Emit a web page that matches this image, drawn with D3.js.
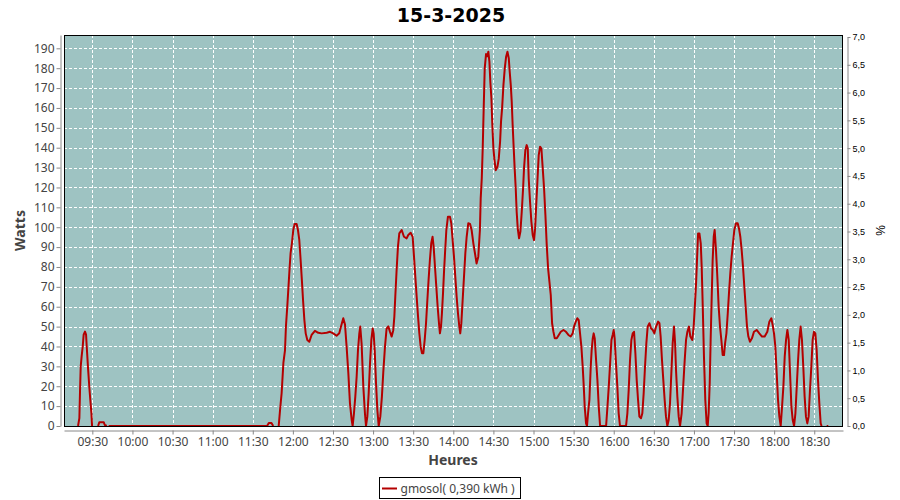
<!DOCTYPE html>
<html><head><meta charset="utf-8">
<script src="https://cdn.jsdelivr.net/npm/d3@7"></script>
<style>body{margin:0;background:#fff;} svg{display:block}</style>
</head><body>
<svg id="chart" width="900" height="500"></svg>
<script>
const chartTitle = "15-3-2025";
const seriesName = "gmosol( 0,390 kWh )";
const yTitle = "Watts";
const xTitle = "Heures";
const y2Title = "%";
// time in minutes after 09:00 (null watts = no data)
const minutes = [
 19.3,20.3,20.8,21.3,22.0,22.8,23.5,24.5,25.3,25.8,26.8,27.8,28.5,29.3,29.8,30.5,
 34.3,35.2,38.5,39.3,40.8,41.6,42.2,160.7,162.0,164.0,165.3,166.5,169.4,
 170.4,171.6,172.9,174.1,174.8,175.8,176.8,177.6,178.3,179.3,180.3,181.3,182.8,183.8,184.8,185.8,186.8,187.6,188.6,189.6,190.8,192.3,194.0,196.5,199.0,201.5,205.3,207.8,210.2,212.7,214.7,216.0,217.7,219.0,220.2,221.5,222.7,224.0,224.7,
 225.7,226.7,227.7,228.7,229.7,230.4,231.4,232.7,233.9,234.7,235.7,236.7,237.7,238.7,239.7,240.4,241.2,242.2,243.2,244.2,
 245.4,246.6,247.6,248.9,250.1,251.4,252.6,253.9,255.1,255.9,256.6,257.6,258.6,259.6,261.4,263.1,265.1,266.3,268.1,269.6,270.6,271.6,272.6,273.6,274.6,275.6,276.6,277.6,278.6,279.6,280.6,281.5,282.5,283.5,284.5,285.3,286.3,287.3,288.3,289.3,290.0,290.8,291.5,292.3,293.0,293.8,294.8,296.0,297.5,298.5,299.5,300.5,301.5,302.5,303.5,304.5,305.2,306.0,307.0,308.0,309.0,310.0,311.2,312.5,313.7,315.0,316.2,317.4,318.7,319.9,
 320.5,321.3,322.0,322.8,323.5,324.5,325.5,326.2,327.0,327.7,328.5,329.2,330.0,330.7,331.7,333.0,334.0,335.0,335.7,336.5,337.5,338.5,339.5,340.5,341.5,342.2,343.0,343.7,344.4,345.2,345.9,346.7,347.4,348.2,349.2,350.2,351.2,352.2,352.9,353.9,354.9,355.7,356.4,357.4,358.4,359.4,360.4,361.2,361.9,362.9,363.9,364.9,365.9,366.9,367.9,368.9,369.9,370.9,371.9,372.9,
 373.9,374.9,375.9,377.4,378.9,380.4,382.4,384.3,386.1,387.8,389.3,390.3,391.6,392.8,393.8,394.8,395.8,396.8,397.6,398.3,399.3,400.0,400.8,401.8,402.8,403.5,404.3,405.0,405.8,406.8,407.8,408.8,409.8,414.3,415.3,416.3,417.3,418.3,419.2,420.0,420.7,421.7,422.7,423.7,424.7,429.2,430.2,431.2,432.2,433.2,434.2,435.2,436.2,437.2,438.2,439.2,440.4,441.4,442.4,443.4,444.4,445.4,446.7,447.9,449.2,450.4,451.7,453.2,454.2,455.1,456.1,457.1,458.1,459.1,460.1,461.1,462.1,463.1,464.1,465.1,465.9,466.6,467.6,468.6,469.6,
 470.8,472.1,473.1,474.1,475.1,476.3,477.3,478.8,479.8,480.8,481.6,482.3,483.1,484.1,485.1,485.8,486.6,487.5,488.5,489.5,490.3,491.0,491.8,492.5,493.3,494.0,494.8,495.5,496.5,497.5,498.5,499.5,500.5,501.5,502.5,503.3,504.3,505.3,506.2,507.2,508.2,509.2,510.2,511.5,512.7,513.7,514.7,515.7,516.7,517.7,518.7,519.7,520.7,521.9,523.4,524.9,526.9,528.9,530.9,532.9,534.9,536.4,537.9,538.9,539.9,540.9,541.9,542.9,543.9,544.9,545.9,546.9,547.9,548.9,549.9,550.9,551.9,552.9,553.9,554.9,555.9,556.9,557.9,558.8,559.8,560.8,561.8,562.8,563.8,564.8,565.8,566.8,567.8,568.8,569.8,570.8,571.8,572.8,573.8,574.8,575.5,576.0,579.3,580.5,581.0
];
const watts = [
 0,4,18,30,35,40,46,47.5,46,40,29,19,13,6.5,0,null,
 0,1.9,1.9,0.5,0,null,0,0,1.5,1.5,0,null,0,
 8,16.6,31.7,38,50,60,71,80,87,92,98.6,101.6,101.6,98.6,93.6,83.5,72.6,63.4,53.3,46.6,43.3,42.4,45.8,47.9,46.9,46.6,46.9,47.4,46.6,45.4,46.6,50,54.2,51,39.9,26.5,11.4,3,0,
 6.4,14.8,24.8,38.2,46.6,50,41.6,19.8,6.4,0,4.7,16.4,31.5,43.3,49.1,46.6,38.2,21.5,8,0,
 4.7,14.8,26.7,39.9,49,50.1,47.5,45,48.2,55,65,78.5,90.2,96.9,98.6,95.2,94.4,96.1,97.2,95.2,85.2,75.1,65,55.3,46.6,39.9,36.6,36.6,43.3,51.6,63.4,73.4,83.5,91.9,95.2,90.2,80.1,70,60,51.6,46.6,50,56.7,66.7,76.8,86.9,98.6,105.3,105.3,102,93.6,85.2,75.1,65,56.7,50,46.6,51.6,63.4,75.1,86.9,95.2,102,101.7,98.6,91.9,86.9,81.8,85.2,98.6,
 114.5,124.6,139.6,161.5,179.9,187.1,186,188.3,183.3,173.2,164.9,151.4,139.6,134.5,128.7,130.4,134.5,143,153.1,159.8,171.5,179.9,185.8,188.3,185,178.2,171.5,163.2,151.4,139.6,129.6,119.5,107.8,99.4,94.4,97.8,107.8,119.5,129.6,138.8,141.3,139.6,124.6,112.9,102.8,96.1,93.5,99.4,109.5,122.9,136.3,140.5,139.6,129.6,119.5,106.1,91,79.3,72.6,65.9,
 51.7,47.4,44.1,44.1,45.8,47.4,48.3,47.4,45.8,45,46.6,50,52.5,54.2,53.3,46.6,39.9,29.8,19.8,9.7,1.3,0,6.4,13.1,29.8,38.2,44.1,46.6,44.1,33.2,23.1,9.7,0,0,9.7,19.8,31.5,43.3,45.8,48.3,44.1,31.5,19.8,6.4,0,0,6.4,18.1,33.2,43.3,46.6,47.4,36.6,23.1,13.1,4.7,3.9,6.4,16.4,29.8,41.6,50,51.7,49.2,48.3,46.6,50,52.5,51.7,45,33.2,23.1,13.1,4.7,0,3,11.4,26.5,41.6,50,41.6,28.2,14.8,4.7,0,
 6.4,21.5,33.2,43.3,47.4,50,45,43.3,50,61.7,71.8,83.5,96.9,96.9,91.9,80.1,60,34.9,13.1,1.3,0,6.4,21.5,43.3,65,83.5,95.2,98.6,88.5,75.1,60,50,43.3,35.7,35.7,41.6,46.6,56.7,66.7,76.8,85.2,91.9,98.6,102,102,99.4,95.2,88.5,80.1,70,60,50,45,42.4,44.1,47.4,48.3,46.6,45,45,47.4,52.5,54.2,50.8,46.6,39.9,26.5,13.1,4.7,0,9.7,19.8,34.9,43.3,48.3,43.3,26.5,9.7,3,0,6.4,19.8,33.2,43.3,50,43.3,29.8,14.8,4.7,1.3,4.7,18.1,29.8,43.3,47.4,46.6,38.2,23.1,11.4,1.3,0,null,0,0,null
];
const xTickLabels = ["09:30","10:00","10:30","11:00","11:30","12:00","12:30","13:00","13:30","14:00","14:30","15:00","15:30","16:00","16:30","17:00","17:30","18:00","18:30"];
const leftTicks = [0,10,20,30,40,50,60,70,80,90,100,110,120,130,140,150,160,170,180,190];
const rightTicks = [0,0.5,1,1.5,2,2.5,3,3.5,4,4.5,5,5.5,6,6.5,7];

const day = new Date(2025, 2, 15, 9, 0, 0);
const toDate = m => new Date(day.getTime() + m * 60000);
const parseHM = s => { const [h, mm] = s.split(":").map(Number); return new Date(2025, 2, 15, h, mm, 0); };

const data = minutes.map((m, i) => ({ t: toDate(m), w: watts[i] }));

const L = 64, R = 843, T = 35, B = 426;
const svg = d3.select("#chart");
const x = d3.scaleTime().domain([toDate(8.8), toDate(591.5)]).range([L, R]);
const y = d3.scaleLinear().domain([0, 196.7]).range([B, T]);
const yR = d3.scaleLinear().domain([0, 7]).range([B, 37]);
const FONT = "'Noto Sans', 'DejaVu Sans', sans-serif";

// title
svg.append("text").attr("x", 451).attr("y", 22).attr("text-anchor", "middle")
  .style("font-family", "'DejaVu Sans', sans-serif").style("font-weight", "bold").style("font-size", "19px")
  .attr("fill", "#000").text(chartTitle);

// plot background
svg.append("rect").attr("x", L).attr("y", T).attr("width", R - L).attr("height", B - T).attr("fill", "#9ec3c2");

// gridlines
const xTicks = xTickLabels.map(parseHM);
svg.append("g").selectAll("line").data(leftTicks.filter(v => v > 0)).join("line")
  .attr("x1", L).attr("x2", R).attr("y1", d => Math.round(y(d)) + 0.5).attr("y2", d => Math.round(y(d)) + 0.5)
  .attr("stroke", "#fff").attr("stroke-width", 1).attr("stroke-dasharray", "3,2");
svg.append("g").selectAll("line").data(xTicks).join("line")
  .attr("y1", T).attr("y2", B).attr("x1", d => Math.round(x(d)) + 0.5).attr("x2", d => Math.round(x(d)) + 0.5)
  .attr("stroke", "#fff").attr("stroke-width", 1).attr("stroke-dasharray", "3,2");

// series line
svg.append("clipPath").attr("id", "clip").append("rect").attr("x", L).attr("y", T).attr("width", R - L).attr("height", B - T);
const line = d3.line().defined(d => d.w !== null).x(d => x(d.t)).y(d => y(d.w));
svg.append("path").datum(data).attr("clip-path", "url(#clip)")
  .attr("d", line).attr("fill", "none").attr("stroke", "#b40000").attr("stroke-width", 2).attr("stroke-linejoin", "round");

// border
svg.append("rect").attr("x", L + 0.5).attr("y", T + 0.5).attr("width", R - L - 1).attr("height", B - T)
  .attr("fill", "none").attr("stroke", "#000").attr("stroke-width", 1);

// axes
function styleAxis(g, fontSize, color, family) {
  g.select(".domain").attr("stroke", "#888");
  g.selectAll(".tick line").attr("stroke", "#888");
  g.selectAll(".tick text").style("font-family", family).style("font-size", fontSize).attr("fill", color);
}
const gl = svg.append("g").attr("transform", "translate(60.5,0)")
  .call(d3.axisLeft(y).tickValues(leftTicks).tickSize(4).tickSizeOuter(0).tickPadding(2).tickFormat(d3.format("d")));
styleAxis(gl, "12px", "#444", FONT);
const gb = svg.append("g").attr("transform", "translate(0,430.5)")
  .call(d3.axisBottom(x).tickValues(xTicks).tickSize(4).tickSizeOuter(0).tickPadding(3).tickFormat((d, i) => xTickLabels[i]));
styleAxis(gb, "12px", "#444", FONT);
const gr = svg.append("g").attr("transform", "translate(847.5,0)")
  .call(d3.axisRight(yR).tickValues(rightTicks).tickSize(3).tickSizeOuter(0).tickPadding(2).tickFormat(d => d.toFixed(1).replace(".", ",")));
styleAxis(gr, "9px", "#000", "'Liberation Sans', Arial, sans-serif");

// axis titles
svg.append("text").attr("transform", "translate(25,230.5) rotate(-90)").attr("text-anchor", "middle")
  .style("font-family", FONT).style("font-weight", "bold").style("font-size", "14px").attr("fill", "#444").text(yTitle);
svg.append("text").attr("x", 453).attr("y", 465).attr("text-anchor", "middle")
  .style("font-family", FONT).style("font-weight", "bold").style("font-size", "14px").attr("fill", "#444").text(xTitle);
svg.append("text").attr("transform", "translate(885,230.5) rotate(-90)").attr("text-anchor", "middle")
  .style("font-family", "'Liberation Sans', Arial, sans-serif").style("font-size", "12px").attr("fill", "#000").text(y2Title);

// legend
const lg = svg.append("g");
lg.append("rect").attr("x", 379.5).attr("y", 477.5).attr("width", 141).attr("height", 21).attr("fill", "#fff").attr("stroke", "#000");
lg.append("line").attr("x1", 382).attr("x2", 397).attr("y1", 488.5).attr("y2", 488.5).attr("stroke", "#b40000").attr("stroke-width", 2);
lg.append("text").attr("x", 400.5).attr("y", 493).style("font-family", FONT).style("font-size", "12px").attr("fill", "#444").text(seriesName);
</script>
</body></html>
